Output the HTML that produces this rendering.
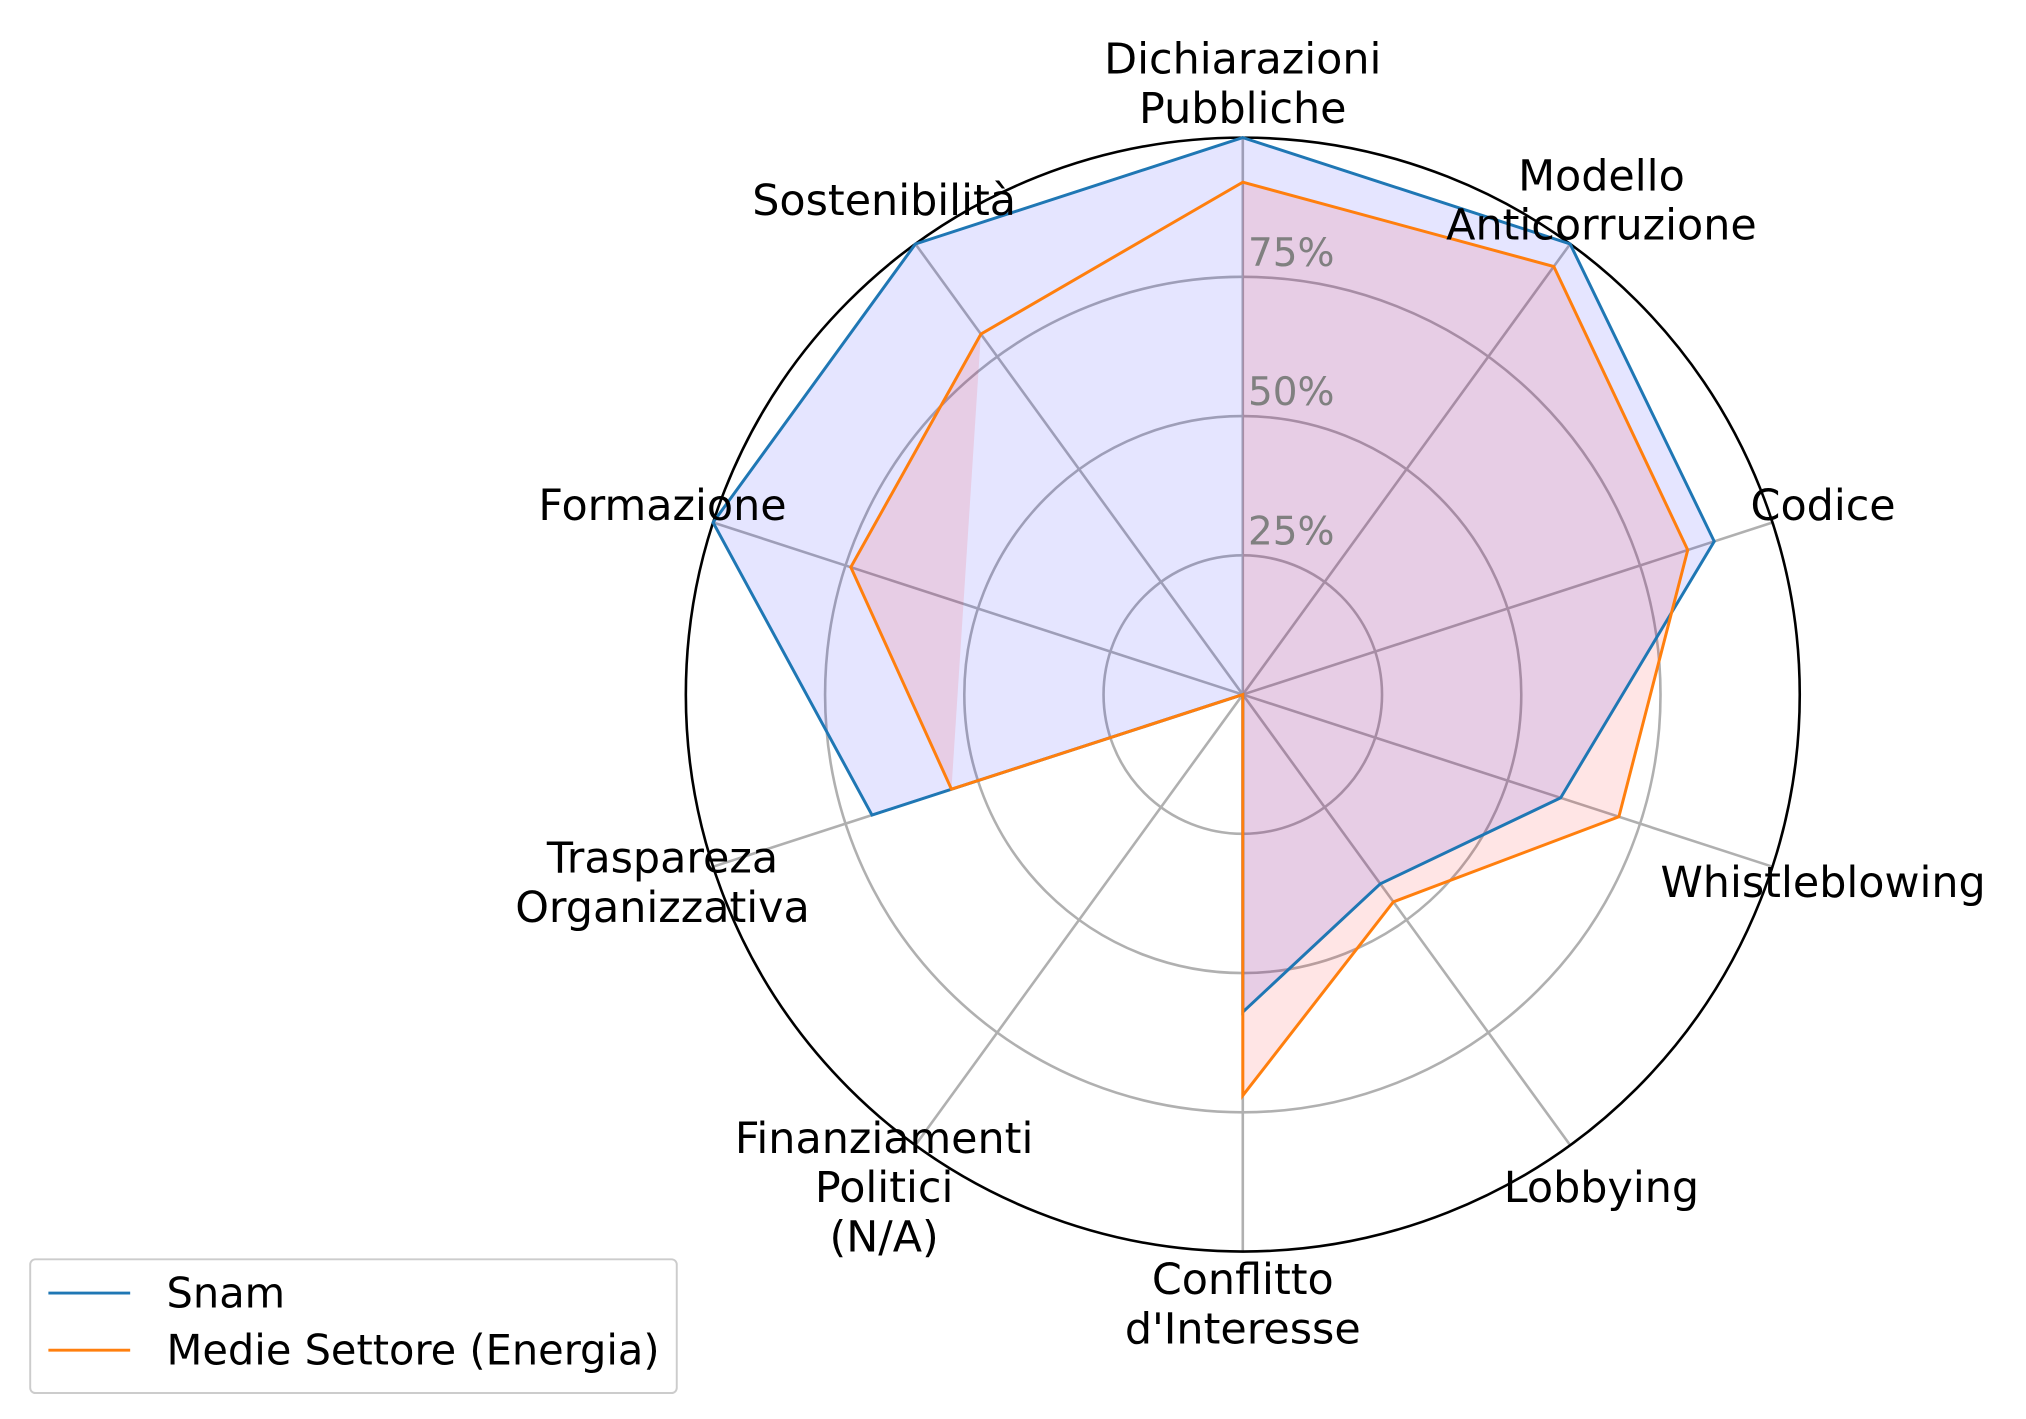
<!DOCTYPE html>
<html><head><meta charset="utf-8">
<style>
html,body{margin:0;padding:0;background:#fff;}
svg{display:block;font-family:"DejaVu Sans","Liberation Sans",sans-serif;}
</style></head>
<body>
<svg id="chart" width="2026" height="1419" viewBox="0 0 1560 1093" xmlns="http://www.w3.org/2000/svg">
<g id="grid"></g>
<g id="series"></g>
<g id="labels"></g>
<g>
<rect x="23" y="970" width="498" height="103" rx="4" fill="#fff" stroke="#ccc" stroke-width="1.5"/>
<line x1="37" y1="996" x2="100" y2="996" stroke="#1f77b4" stroke-width="2.3"/>
<text x="128" y="996" font-size="32" dominant-baseline="central">Snam</text>
<line x1="37" y1="1040" x2="100" y2="1040" stroke="#ff7f0e" stroke-width="2.3"/>
<text x="128" y="1040" font-size="32" dominant-baseline="central">Medie Settore (Energia)</text>
</g>
</svg>
<script>
const categories = ["Dichiarazioni\nPubbliche","Modello\nAnticorruzione","Codice","Whistleblowing","Lobbying","Conflitto\nd'Interesse","Finanziamenti\nPolitici\n(N/A)","Traspareza\nOrganizzativa","Formazione","Sostenibilità"];
const snamValues = [100,100,89,60,42,57,0,70,100,100];
const medieValues = [92,95,84,71,46,72,0,55,74,80];
const tickValues = [25,50,75];
const tickLabels = ["25%","50%","75%"];

const NS="http://www.w3.org/2000/svg";
const cx=957, cy=535, R=429;
function rScale(v){return v/100*R;}
function angle(i){return Math.PI/2 - i*2*Math.PI/categories.length;}
function pt(i,v){const a=angle(i), r=rScale(v);return [cx+r*Math.cos(a), cy-r*Math.sin(a)];}
function mk(tag,attrs,parent){const e=document.createElementNS(NS,tag);for(const k in attrs)e.setAttribute(k,attrs[k]);parent.appendChild(e);return e;}

const grid=document.getElementById('grid');
tickValues.forEach((t,k)=>{
  const c=mk('circle',{cx:cx,cy:cy,r:rScale(t),fill:'none',stroke:'#b0b0b0','stroke-width':2},grid);
  
  
});
categories.forEach((c,i)=>{
  const p=pt(i,100);
  const l=mk('line',{x1:cx,y1:cy,x2:p[0],y2:p[1],stroke:'#b0b0b0','stroke-width':2},grid);
  
  
});
const outer=mk('circle',{cx:cx,cy:cy,r:R,fill:'none',stroke:'#000','stroke-width':2},grid);



const ser=document.getElementById('series');
function fillPoly(pts,fill,name){
  const f=mk('polygon',{points:pts.map(p=>p.join(',')).join(' '),fill:fill,'fill-opacity':0.1,stroke:'none'},ser);
  
  
}
function lineSeries(vals,stroke,name){
  const pts=vals.map((v,i)=>pt(i,v).join(',')).join(' ');
  const l=mk('polygon',{points:pts,fill:'none',stroke:stroke,'stroke-width':2.3},ser);
  
  
}
fillPoly(snamValues.map((v,i)=>pt(i,v)),'#0000ff','snam-fill');
(function(){
  const z=medieValues.indexOf(0);
  if(z<0){fillPoly(medieValues.map((v,i)=>pt(i,v)),'#ff0000','medie-fill');return;}
  const a=[];for(let i=0;i<=z;i++)a.push(pt(i,medieValues[i]));
  fillPoly(a,'#ff0000','medie-fill-a');
  const b=[];for(let i=z+1;i<medieValues.length;i++)b.push(pt(i,medieValues[i]));
  if(b.length>2)fillPoly(b,'#ff0000','medie-fill-b');
})();
lineSeries(snamValues,'#1f77b4','snam');
lineSeries(medieValues,'#ff7f0e','medie');

tickValues.forEach((t,k)=>{
  const tx=mk('text',{x:cx+4,y:cy-rScale(t)-18,'font-size':30,fill:'#808080','dominant-baseline':'central'},ser);
  tx.textContent=tickLabels[k];
  
  
});

const labs=document.getElementById('labels');
const labelR=470;
categories.forEach((c,i)=>{
  const a=angle(i);
  const x=cx+labelR*Math.cos(a), y=cy-labelR*Math.sin(a);
  const lines=c.split('\n');
  const lh=38;
  const y0=y-(lines.length-1)*lh/2;
  const t=mk('text',{'font-size':33,'text-anchor':'middle',fill:'#000','dominant-baseline':'central'},labs);
  
  
  lines.forEach((s,j)=>{
    const sp=mk('tspan',{x:x,y:y0+j*lh},t);
    sp.textContent=s;
  });
});
</script>
</body></html>
